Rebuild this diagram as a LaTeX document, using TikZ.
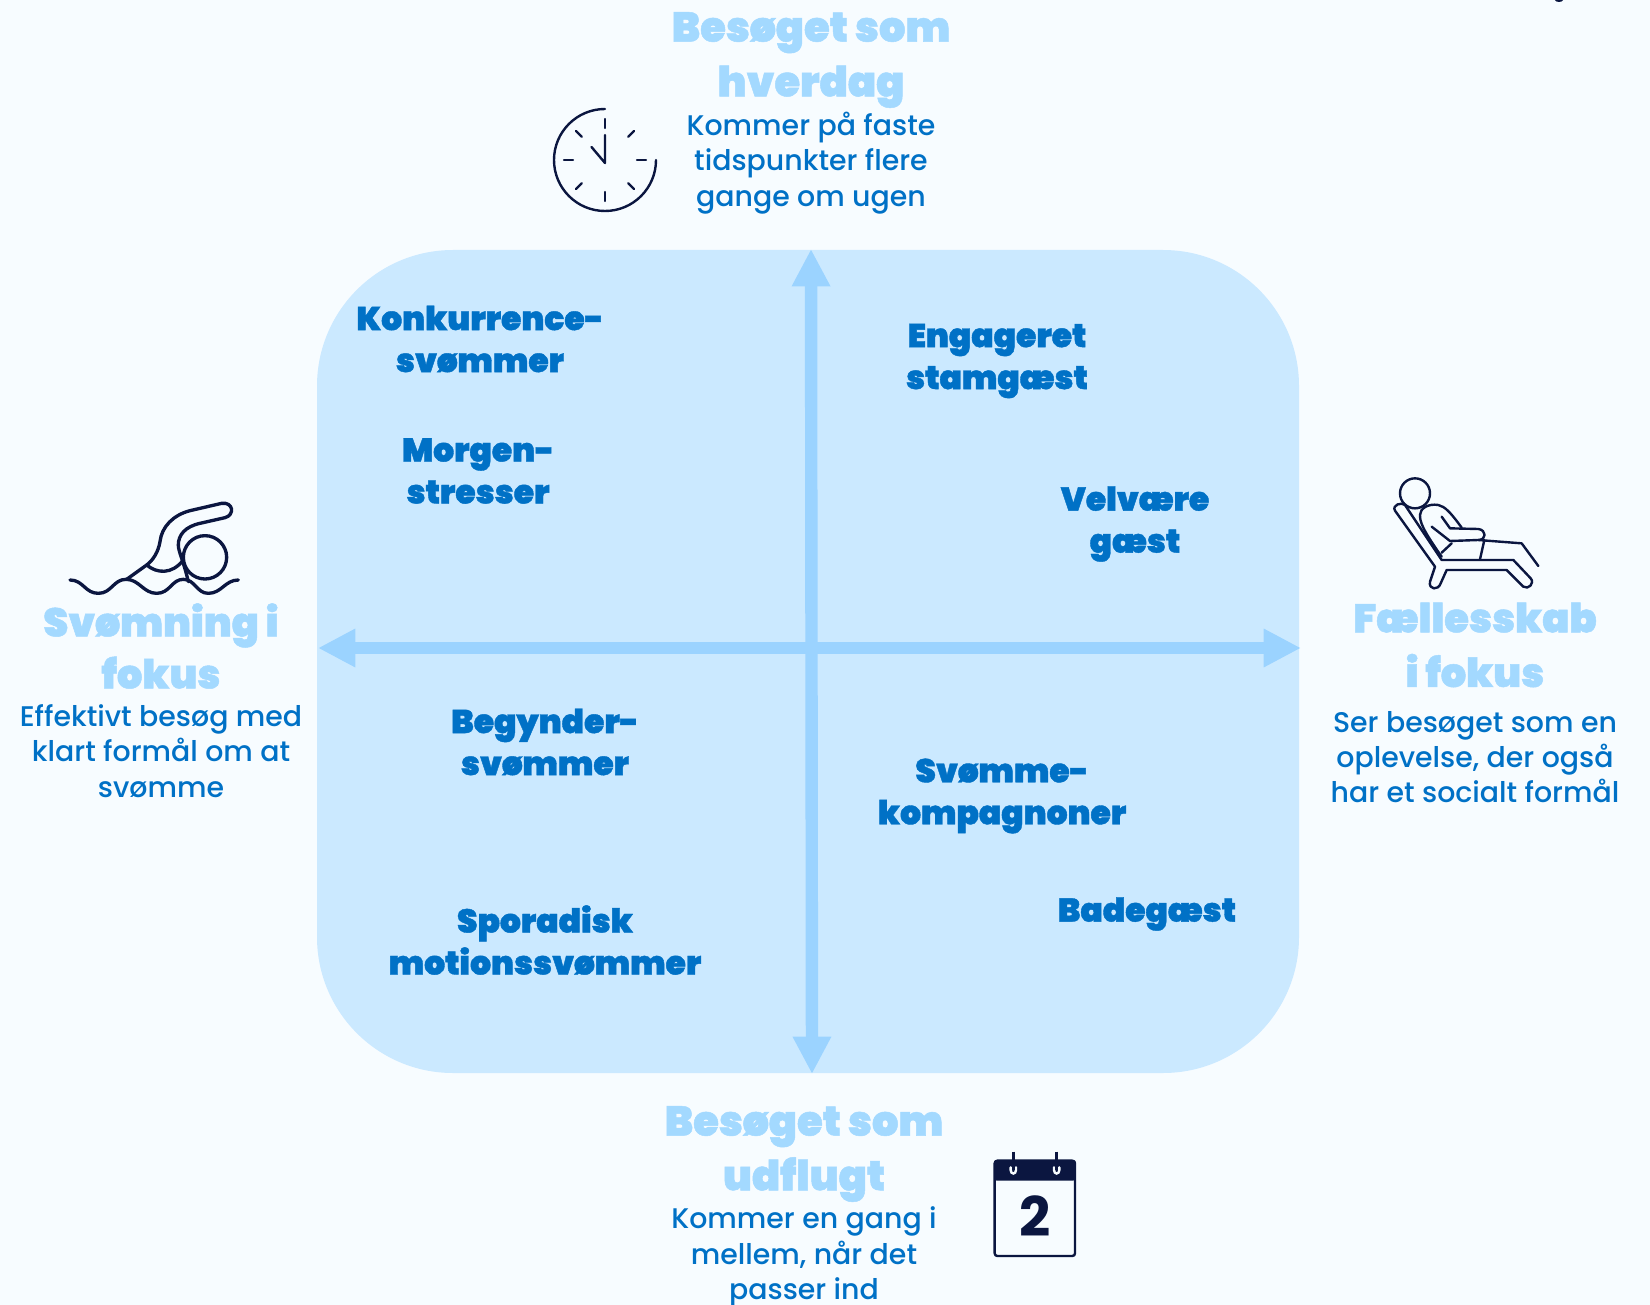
\documentclass[tikz,border=0pt]{standalone}
\usepackage{fontspec}
\usetikzlibrary{arrows.meta}
\setmainfont{Lato}
\newfontfamily\heavyf[FakeBold=1.2]{Poppins}[UprightFont=* Black]
\newfontfamily\bodyf{Poppins}[UprightFont=* Medium]
\newfontfamily\digitf{Poppins}[UprightFont=* Bold]
\definecolor{bgc}{HTML}{F7FCFF}
\definecolor{panelc}{HTML}{CBE9FF}
\definecolor{arrowc}{HTML}{9BD3FF}
\definecolor{titlec}{HTML}{A3D9FF}
\definecolor{labelc}{HTML}{0071C6}
\definecolor{iconc}{HTML}{0B1640}
\tikzset{
 axisline/.style={arrowc,-,line width=9.3pt,{Triangle[length=28pt,width=27pt]}-{Triangle[length=28pt,width=27pt]}},
 titletext/.style={text=titlec,align=center,inner sep=0pt,font=\heavyf\fontsize{30}{41}\selectfont},
 widetitle/.style={titletext,font=\heavyf\fontsize{31.2}{41}\selectfont},
 bodytext/.style={text=labelc,align=center,inner sep=0pt,font=\bodyf\fontsize{21.3}{26.5}\selectfont},
 grouptext/.style={text=labelc,align=center,inner sep=0pt,font=\heavyf\fontsize{24.7}{31.5}\selectfont},
 icon/.style={draw=iconc,line width=1.8pt,line cap=round,line join=round},
 iconthick/.style={draw=iconc,line width=2.5pt,line cap=round,line join=round},
}
\begin{document}
\begin{tikzpicture}[x=0.75pt,y=-0.75pt]
\useasboundingbox (0,0) rectangle (1650,1305);
\clip (0,0) rectangle (1650,1305);
\fill[bgc] (0,0) rectangle (1650,1305);
\fill[iconc] (1559,0) ellipse (4 and 2);
% panel
\fill[panelc,rounded corners=102pt] (317,250) rectangle (1299,1073);
% axes
\coordinate (atop) at (811,249);
\coordinate (abot) at (812,1074);
\coordinate (aleft) at (318,648);
\coordinate (aright) at (1301,648);
\draw[axisline] (atop) -- (abot);
\draw[axisline] (aleft) -- (aright);
% group labels
\node[grouptext] (konk) at (480,339) {Konkurrence-\\svømmer};
\node[grouptext] (morg) at (478,471) {Morgen-\\stresser};
\node[grouptext] (enga) at (997,361) {Engageret\\stamgæst};
\node[grouptext] (velv) at (1135,524) {Velvære\\gæst};
\node[grouptext] (begy) at (545,742) {Begynder-\\svømmer};
\node[grouptext] (spor) at (545,940) {Sporadisk\\motionssvømmer};
\node[grouptext] (komp) at (1002,796) {Svømme-\\kompagnoner};
\node[grouptext] (bade) at (1147,914) {Badegæst};
% axis titles
\node[widetitle] (ttop) at (811,60) {Besøget som\\hverdag};
\node[bodytext] (btop) at (811,163) {Kommer på faste\\tidspunkter flere\\gange om ugen};
\node[titletext] (tleft) at (161,646) {Svømning i\\[-2pt]fokus};
\node[bodytext] (bleft) at (161,751) {Effektivt besøg med\\klart formål om at\\svømme};
\node[titletext] (tright) at (1475,645) {Fællesskab\\i fokus};
\node[bodytext] (bright) at (1475,757) {Ser besøget som en\\oplevelse, der også\\har et socialt formål};
\node[widetitle] (tbot) at (804,1154) {Besøget som\\udflugt};
\node[bodytext] (bbot) at (804,1257) {Kommer en gang i\\mellem, når det\\passer ind};
% clock
\begin{scope}[shift={(605,160)}]
\draw[icon] (51,0) arc[start angle=0,end angle=270,radius=51];
\draw[icon] (0,-41) -- (0,-32) (0,41) -- (0,32) (-41,0) -- (-32,0) (41,0) -- (32,0);
\foreach \a in {45,135,225,315} \draw[icon] (\a:41) -- (\a:33);
\draw[icon] (0,-25) -- (0,3) -- (-13.5,-13);
\end{scope}
% swimmer
\begin{scope}[shift={(50,480)},x=0.25pt,y=-0.25pt]
\draw[iconthick] (60,300) .. controls (100,300) and (105,340) .. (145,340) .. controls (185,340) and (190,298) .. (228,298) .. controls (268,298) and (280,340) .. (320,340) .. controls (360,340) and (365,298) .. (400,298) .. controls (435,298) and (440,340) .. (475,340) .. controls (515,340) and (525,300) .. (565,300);
\draw[iconthick] (230,298) -- (290,255) .. controls (310,240) and (325,215) .. (330,185) .. controls (335,140) and (370,105) .. (420,92) -- (515,70) .. controls (550,65) and (555,105) .. (525,113) -- (450,130) .. controls (405,140) and (385,165) .. (385,195) .. controls (385,215) and (400,240) .. (415,305);
\draw[iconthick] (290,255) .. controls (320,280) and (365,285) .. (400,240);
\draw[iconthick] (465,232) circle (65);
\end{scope}
% lounger
\begin{scope}[shift={(1370,460)},x=0.25pt,y=-0.25pt]
\draw[icon] (135,100) circle (45);
\draw[icon] (105,135) .. controls (95,125) and (65,135) .. (75,152) -- (195,320) -- (180,365) .. controls (175,390) and (205,392) .. (212,370) -- (230,330) -- (410,330) -- (460,380) .. controls (475,390) and (495,370) .. (482,355) -- (430,300) -- (215,300) -- cycle;
\draw[icon] (150,165) .. controls (150,145) and (175,130) .. (205,135) .. controls (225,140) and (240,155) .. (275,203);
\draw[icon] (215,170) -- (240,205) -- (325,207) .. controls (350,210) and (350,240) .. (325,240) -- (240,243) -- (185,200);
\draw[icon] (150,165) .. controls (150,185) and (155,205) .. (215,290);
\draw[icon] (215,278) -- (245,250);
\draw[icon] (325,240) -- (455,250) -- (505,318);
\draw[icon] (343,240) -- (330,298);
\end{scope}
% calendar
\begin{scope}[shift={(970,1140)},x=0.25pt,y=-0.25pt]
\draw[icon,fill=bgc,rounded corners=2pt] (74,62) rectangle (315,348);
\fill[iconc,rounded corners=2pt] (72,60) rectangle (317,122);
\draw[bgc,line width=1.8pt,line cap=round] (122,82) -- (122,90) .. controls (122,104) and (138,104) .. (138,90) -- (138,82);
\draw[bgc,line width=1.8pt,line cap=round] (252,82) -- (252,90) .. controls (252,104) and (268,104) .. (268,90) -- (268,82);
\draw[iconc,line width=1.8pt] (130,35) -- (130,90);
\draw[iconc,line width=1.8pt] (260,35) -- (260,90);
\node[text=iconc,inner sep=0pt,font=\digitf\fontsize{41}{41}\selectfont] (daytwo) at (195,228) {2};
\end{scope}
\end{tikzpicture}
\end{document}
